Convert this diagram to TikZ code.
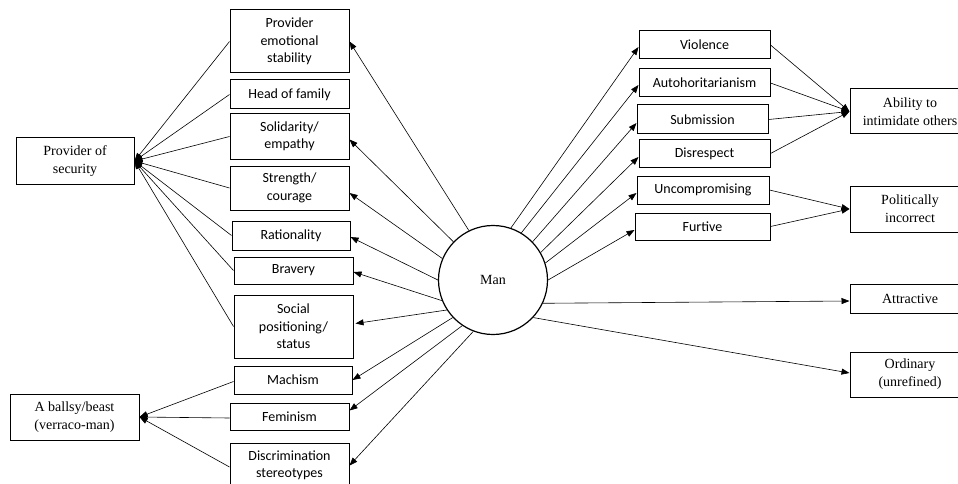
\documentclass[tikz,border=0pt]{standalone}
\usepackage{fontspec}
\setmainfont{Liberation Serif}
\newfontfamily\sansfam{Carlito}
\usetikzlibrary{arrows.meta}
\newcommand\boxsans{\sansfam\fontsize{14pt}{17.5pt}\selectfont}
\newcommand\boxserif{\rmfamily\fontsize{14pt}{18pt}\selectfont}
\tikzset{
  sbox/.style={draw, line width=1pt, font=\boxsans, align=center, inner sep=0pt},
  tbox/.style={draw, line width=1pt, font=\boxserif, align=center, inner sep=0pt},
  link/.style={line width=0.6pt, -{Triangle[length=8pt,width=6pt]}},
}
\begin{document}
\begin{tikzpicture}[x=1pt,y=-1pt]
\useasboundingbox (0,0) rectangle (958,484);

% central node
\node[draw, circle, line width=1.2pt, minimum size=109pt, inner sep=0pt, font=\boxserif] (man) at (493,280) {Man};

% left column of attributes
\node[sbox, minimum width=119pt, minimum height=63pt] (emo)  at (289.5,41.5)  {Provider\\emotional\\stability};
\node[sbox, minimum width=119pt, minimum height=29pt] (head) at (289.5,94.5)  {Head of family};
\node[sbox, minimum width=119pt, minimum height=45pt] (sol)  at (289.5,136.5) {Solidarity/\\empathy};
\node[sbox, minimum width=119pt, minimum height=44pt] (str)  at (289.5,188)   {Strength/\\courage};
\node[sbox, minimum width=118pt, minimum height=29pt] (rat)  at (291,235.5)   {Rationality};
\node[sbox, minimum width=119pt, minimum height=27pt] (brav) at (293.5,270.5) {Bravery};
\node[sbox, minimum width=119pt, minimum height=63pt] (soc)  at (293.5,326.5) {Social\\positioning/\\status};
\node[sbox, minimum width=118pt, minimum height=28pt] (mach) at (293,380)     {Machism};
\node[sbox, minimum width=119pt, minimum height=27pt] (fem)  at (289.5,416.5) {Feminism};
\node[sbox, minimum width=119pt, minimum height=45pt] (disc) at (289.5,465.5) {Discrimination\\stereotypes};

% outer left groups
\node[tbox, minimum width=118pt, minimum height=46pt] (sec)  at (75,161)    {Provider of\\security};
\node[tbox, minimum width=129pt, minimum height=46pt] (beast) at (74.5,417) {A ballsy/beast\\(verraco-man)};

% right column of attributes
\node[sbox, minimum width=131pt, minimum height=28pt] (vio) at (704.5,45)    {Violence};
\node[sbox, minimum width=131pt, minimum height=28pt] (aut) at (704.5,83)    {Autohoritarianism};
\node[sbox, minimum width=131pt, minimum height=29pt] (sub) at (702.5,119.5) {Submission};
\node[sbox, minimum width=131pt, minimum height=27pt] (dis) at (704.5,153.5) {Disrespect};
\node[sbox, minimum width=132pt, minimum height=28pt] (unc) at (703,190)     {Uncompromising};
\node[sbox, minimum width=135pt, minimum height=27pt] (fur) at (702.5,226.5) {Furtive};

% outer right groups
\node[tbox, minimum width=120pt, minimum height=45pt] (intim) at (910,111.5) {Ability to\\intimidate others};
\node[tbox, minimum width=120pt, minimum height=46pt] (pol)   at (910,209)   {Politically\\incorrect};
\node[tbox, minimum width=120pt, minimum height=29pt] (attr)  at (910,298.5) {Attractive};
\node[tbox, minimum width=120pt, minimum height=45pt] (ord)   at (910,374.5) {Ordinary\\(unrefined)};

% Man -> left attributes
\draw[link] (man.116.6) -- (emo.east);
\draw[link] (man.136.5) -- ([yshift=-3pt]sol.east);
\draw[link] (man.157.5) -- ([yshift=-5pt]str.east);
\draw[link] (man.180)   -- ([yshift=-1.5pt]rat.east);
\draw[link] (man.202.5) -- ([yshift=-1.5pt]brav.east);
\draw[link] (man.213.7) -- ([xshift=2pt,yshift=3pt]soc.east);
\draw[link] (man.223.5) -- (mach.east);
\draw[link] (man.236.6) -- ([yshift=6pt]fem.east);
\draw[link] (man.249)   -- (disc.east);

% Man -> right attributes
\draw[link] (man.71.9)  -- ([yshift=-2pt]vio.west);
\draw[link] (man.59.2)  -- ([yshift=-2pt]aut.west);
\draw[link] (man.44.3)  -- ([yshift=-3.5pt]sub.west);
\draw[link] (man.30.6)  -- ([yshift=-3.5pt]dis.west);
\draw[link] (man.18.4)  -- ([yshift=-3pt]unc.west);
\draw[link] (man.0)     -- ([yshift=-3.5pt]fur.west);
\draw[link] (man.-25.6) -- ([yshift=-2.5pt]attr.west);
\draw[link] (man.-43.5) -- ([yshift=1.5pt]ord.west);

% left attributes -> Provider of security
\foreach \n in {emo,head,sol,str,rat,brav,soc}
  \draw[link] (\n.west) -- (sec.east);

% left attributes -> A ballsy/beast
\foreach \n in {mach,fem,disc}
  \draw[link] ([yshift=-1.5pt]\n.west) -- (beast.east);

% right attributes -> Ability to intimidate others
\foreach \n in {vio,aut,sub,dis}
  \draw[link] (\n.east) -- (intim.west);

% right attributes -> Politically incorrect
\foreach \n in {unc,fur}
  \draw[link] (\n.east) -- (pol.west);
\end{tikzpicture}
\end{document}
